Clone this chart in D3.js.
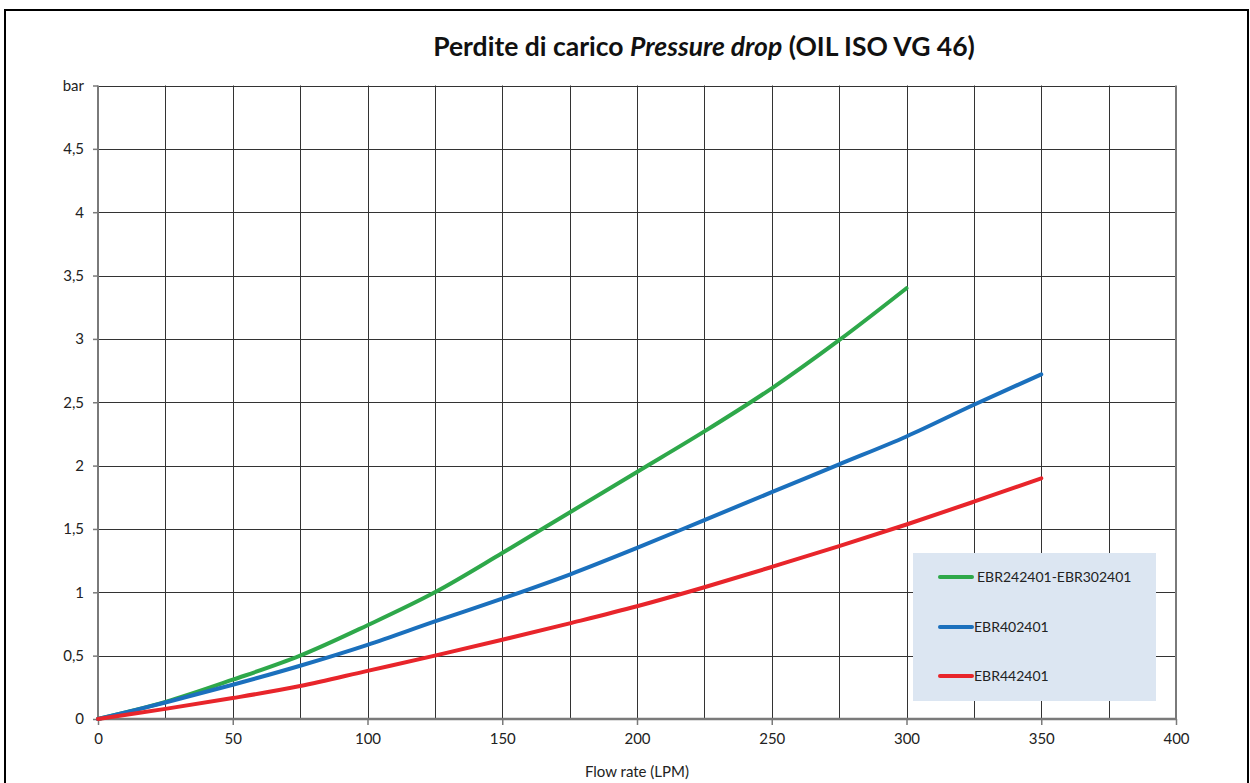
<!DOCTYPE html>
<html>
<head>
<meta charset="utf-8">
<script src="https://cdn.jsdelivr.net/npm/d3@7"></script>
<style>
  html, body { margin: 0; padding: 0; background: #fff; }
  svg { display: block; font-family: Lato, 'Open Sans', sans-serif; }
</style>
</head>
<body>
<div id="vis"></div>
<script>
// values (flow LPM -> pressure drop bar)
var flow = [0, 25, 50, 75, 100, 125, 150, 175, 200, 225, 250, 275, 300, 325, 350];
var greenBar = [0, 0.135, 0.31, 0.50, 0.74, 1.0, 1.31, 1.63, 1.95, 2.27, 2.61, 2.99, 3.40];
var blueBar  = [0, 0.13, 0.27, 0.42, 0.585, 0.77, 0.95, 1.14, 1.35, 1.57, 1.79, 2.01, 2.23, 2.48, 2.72];
var redBar   = [0, 0.08, 0.165, 0.26, 0.38, 0.50, 0.625, 0.755, 0.89, 1.04, 1.20, 1.365, 1.535, 1.715, 1.90];
var seriesNames = ["EBR242401-EBR302401", "EBR402401", "EBR442401"];
var seriesColors = ["#2ea84a", "#1b70bd", "#e8252b"];
var xTicks = [0, 50, 100, 150, 200, 250, 300, 350, 400];
var yTicks = [0, 0.5, 1, 1.5, 2, 2.5, 3, 3.5, 4, 4.5];

var width = 1250, height = 783;
var svg = d3.select("#vis").append("svg")
    .attr("width", width)
    .attr("height", height);

// outer frame
svg.append("rect")
    .attr("x", 5).attr("y", 10)
    .attr("width", 1243).attr("height", 790)
    .attr("fill", "none")
    .attr("stroke", "#000")
    .attr("stroke-width", 2);

var x = d3.scaleLinear().domain([0, 400]).range([98, 1176]);
var y = d3.scaleLinear().domain([0, 5]).range([719, 85.5]);

// grid
var grid = svg.append("g").attr("stroke", "#333").attr("stroke-width", 1);
grid.selectAll(".vg").data(d3.range(25, 400, 25)).enter().append("line")
    .attr("x1", d => Math.round(x(d)) + 0.5).attr("x2", d => Math.round(x(d)) + 0.5)
    .attr("y1", y(5)).attr("y2", y(0));
grid.selectAll(".hg").data(yTicks.slice(1).concat([5])).enter().append("line")
    .attr("x1", x(0)).attr("x2", x(400))
    .attr("y1", d => Math.round(y(d)) + 0.5).attr("y2", d => Math.round(y(d)) + 0.5);

// axes frame lines (gray)
svg.append("line").attr("x1", x(0)).attr("x2", x(400)).attr("y1", y(0)).attr("y2", y(0))
    .attr("stroke", "#7a7a7a").attr("stroke-width", 2.5);
svg.append("line").attr("x1", x(0)).attr("x2", x(0)).attr("y1", y(5)).attr("y2", y(0))
    .attr("stroke", "#7a7a7a").attr("stroke-width", 2);
svg.append("line").attr("x1", x(400)).attr("x2", x(400)).attr("y1", y(5)).attr("y2", y(0))
    .attr("stroke", "#7a7a7a").attr("stroke-width", 2);

// axes with d3
var xAxis = d3.axisBottom(x).tickValues(xTicks).tickSize(6).tickPadding(8)
    .tickFormat(d3.format("d"));
var gx = svg.append("g").attr("transform", "translate(0," + y(0) + ")").call(xAxis);
gx.select(".domain").remove();
gx.selectAll(".tick line").attr("stroke", "#7a7a7a").attr("stroke-width", 1.5);
gx.selectAll(".tick text").attr("font-size", 15).attr("fill", "#222")
    .attr("font-family", "Lato, sans-serif");

var yAxis = d3.axisLeft(y).tickValues(yTicks.concat([5])).tickSize(5).tickPadding(9)
    .tickFormat(d => d === 5 ? "bar" : String(d).replace(".", ","));
var gy = svg.append("g").attr("transform", "translate(" + x(0) + ",0)").call(yAxis);
gy.select(".domain").remove();
gy.selectAll(".tick line").attr("stroke", "#7a7a7a").attr("stroke-width", 1.5);
gy.selectAll(".tick text").attr("font-size", 15).attr("fill", "#222")
    .attr("font-family", "Lato, sans-serif");

// curves
var allSeries = [greenBar, blueBar, redBar];
var line = d3.line()
    .x(d => x(d[0])).y(d => y(d[1]))
    .curve(d3.curveCatmullRom.alpha(0.5));
allSeries.forEach(function (vals, i) {
    var pts = vals.map((v, j) => [flow[j], v]);
    svg.append("path")
        .attr("d", line(pts))
        .attr("fill", "none")
        .attr("stroke", seriesColors[i])
        .attr("stroke-width", 4)
        .attr("stroke-linecap", "round")
        .attr("stroke-linejoin", "round");
});

// legend
var lg = svg.append("g");
lg.append("rect").attr("x", 913).attr("y", 553).attr("width", 243).attr("height", 148)
    .attr("fill", "#dce6f2");
var rowY = [577, 627, 676];
var labelX = [977, 974, 974];
seriesNames.forEach(function (name, i) {
    lg.append("line").attr("x1", 940).attr("x2", 972)
        .attr("y1", rowY[i]).attr("y2", rowY[i])
        .attr("stroke", seriesColors[i]).attr("stroke-width", 4)
        .attr("stroke-linecap", "round");
    lg.append("text").attr("x", labelX[i]).attr("y", rowY[i]).attr("dy", "0.35em")
        .attr("font-size", 14).attr("fill", "#222").text(name);
});

// titles
var title = svg.append("text")
    .attr("x", 704).attr("y", 56)
    .attr("text-anchor", "middle")
    .attr("font-size", 26.5).attr("font-weight", "bold").attr("fill", "#111");
title.append("tspan").text("Perdite di carico ");
title.append("tspan").attr("font-style", "italic").text("Pressure drop");
title.append("tspan").text(" (OIL ISO VG 46)");

svg.append("text")
    .attr("x", 637).attr("y", 772).attr("dy", "0.35em")
    .attr("text-anchor", "middle")
    .attr("font-size", 15).attr("fill", "#222")
    .text("Flow rate (LPM)");
</script>
</body>
</html>
